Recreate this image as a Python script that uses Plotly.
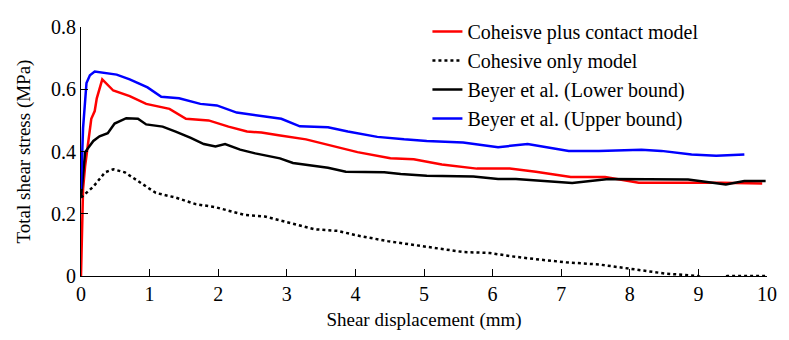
import plotly.graph_objects as go

# Coheisve plus contact model (red)
red_x = [0, 0.01, 0.02, 0.03, 0.06, 0.15, 0.2, 0.23, 0.31, 0.47, 0.71, 0.95, 1.29, 1.53, 1.86, 2.15, 2.42,
         2.63, 2.88, 3.16, 3.28, 4.03, 4.51, 4.85, 5.26, 5.77, 6.25, 6.63, 7.14, 7.64, 8.13, 9.33, 9.93]
red_y = [0, 0.1, 0.2, 0.28, 0.353, 0.505, 0.53, 0.571, 0.632, 0.596, 0.578, 0.553, 0.537, 0.505, 0.5, 0.48,
         0.464, 0.461, 0.452, 0.442, 0.439, 0.398, 0.378, 0.375, 0.358, 0.345, 0.345, 0.335, 0.318, 0.318,
         0.3, 0.3, 0.297]

# Cohesive only model (dotted)
coh_x = [0, 0.18, 0.35, 0.47, 0.64, 0.85, 1.09, 1.38, 1.67, 1.96, 2.39, 2.68, 2.88, 3.16, 3.41, 3.74, 4.03,
         4.47, 4.8, 5.19, 5.57, 5.96, 6.25, 6.63, 7.07, 7.55, 7.98, 8.51, 8.99, 9.15, 9.3, 9.42, 10.0]
coh_y = [0.252, 0.287, 0.333, 0.343, 0.333, 0.302, 0.267, 0.252, 0.231, 0.221, 0.196, 0.191, 0.18, 0.165,
         0.15, 0.145, 0.13, 0.112, 0.101, 0.089, 0.077, 0.074, 0.064, 0.054, 0.044, 0.037, 0.023, 0.008,
         0.0, -0.01, -0.01, 0.0, 0.0]

# Beyer et al. (Lower bound)
low_x = [0, 0.06, 0.18, 0.27, 0.39, 0.49, 0.66, 0.83, 0.95, 1.19, 1.38, 1.6, 1.79, 1.96, 2.1, 2.32, 2.54,
         2.9, 3.09, 3.6, 3.86, 4.42, 4.66, 5.04, 5.72, 6.08, 6.34, 6.78, 7.16, 7.69, 8.85, 9.4, 9.67, 9.98]
low_y = [0.252, 0.398, 0.434, 0.449, 0.459, 0.49, 0.507, 0.505, 0.487, 0.48, 0.464, 0.444, 0.424, 0.416,
         0.424, 0.406, 0.394, 0.378, 0.363, 0.348, 0.335, 0.333, 0.328, 0.322, 0.32, 0.312, 0.312, 0.304,
         0.299, 0.312, 0.31, 0.294, 0.305, 0.305]

# Beyer et al. (Upper bound)
up_x = [0, 0.03, 0.08, 0.13, 0.2, 0.52, 0.71, 0.97, 1.17, 1.43, 1.74, 1.98, 2.27, 2.59, 2.92, 3.19, 3.6,
        3.89, 4.32, 4.71, 5.04, 5.57, 6.08, 6.51, 7.11, 7.55, 8.17, 8.46, 8.9, 9.26, 9.67]
up_y = [0.28, 0.475, 0.62, 0.645, 0.657, 0.647, 0.632, 0.606, 0.576, 0.571, 0.553, 0.548, 0.525, 0.515,
        0.505, 0.481, 0.478, 0.464, 0.447, 0.439, 0.434, 0.429, 0.414, 0.424, 0.402, 0.402, 0.406, 0.402,
        0.39, 0.386, 0.39]

x_ticks = [0, 1, 2, 3, 4, 5, 6, 7, 8, 9, 10]
y_ticks = [0, 0.2, 0.4, 0.6, 0.8]
y_labels = ["0", "0.2", "0.4", "0.6", "0.8"]

FONT = "Liberation Serif, Times New Roman, serif"

fig = go.Figure()
fig.add_trace(go.Scatter(x=red_x, y=red_y, mode="lines", name="Coheisve plus contact model",
                         line=dict(color="#ff0000", width=2.5)))
fig.add_trace(go.Scatter(x=coh_x, y=coh_y, mode="lines", name="Cohesive only model",
                         line=dict(color="black", width=2.5, dash="dot")))
fig.add_trace(go.Scatter(x=low_x, y=low_y, mode="lines", name="Beyer et al. (Lower bound)",
                         line=dict(color="black", width=2.5)))
fig.add_trace(go.Scatter(x=up_x, y=up_y, mode="lines", name="Beyer et al. (Upper bound)",
                         line=dict(color="#0000ff", width=2.5)))

fig.update_layout(
    width=789, height=340,
    margin=dict(l=81, r=16, t=13, b=64),
    paper_bgcolor="white", plot_bgcolor="white",
    font=dict(family=FONT, size=19, color="black"),
    showlegend=True,
    legend=dict(x=0.505, y=1.06, xanchor="left", yanchor="top", bgcolor="rgba(0,0,0,0)",
                font=dict(family=FONT, size=20, color="black"), itemwidth=30,
                tracegroupgap=0),
    xaxis=dict(range=[0, 10], tickvals=x_ticks, ticks="inside", ticklen=7, tickcolor="black",
               showline=True, linecolor="black", linewidth=1, showgrid=False, zeroline=False,
               title=dict(text="Shear displacement (mm)", font=dict(size=19), standoff=8),
               tickfont=dict(size=20)),
    yaxis=dict(range=[0, 0.8], tickvals=y_ticks, ticktext=y_labels, ticks="inside", ticklen=7,
               tickcolor="black", showline=True, linecolor="black", linewidth=1, showgrid=False,
               zeroline=False,
               title=dict(text="Total shear stress (MPa)", font=dict(size=19), standoff=15),
               tickfont=dict(size=20)),
)

fig.write_html("out.html")
